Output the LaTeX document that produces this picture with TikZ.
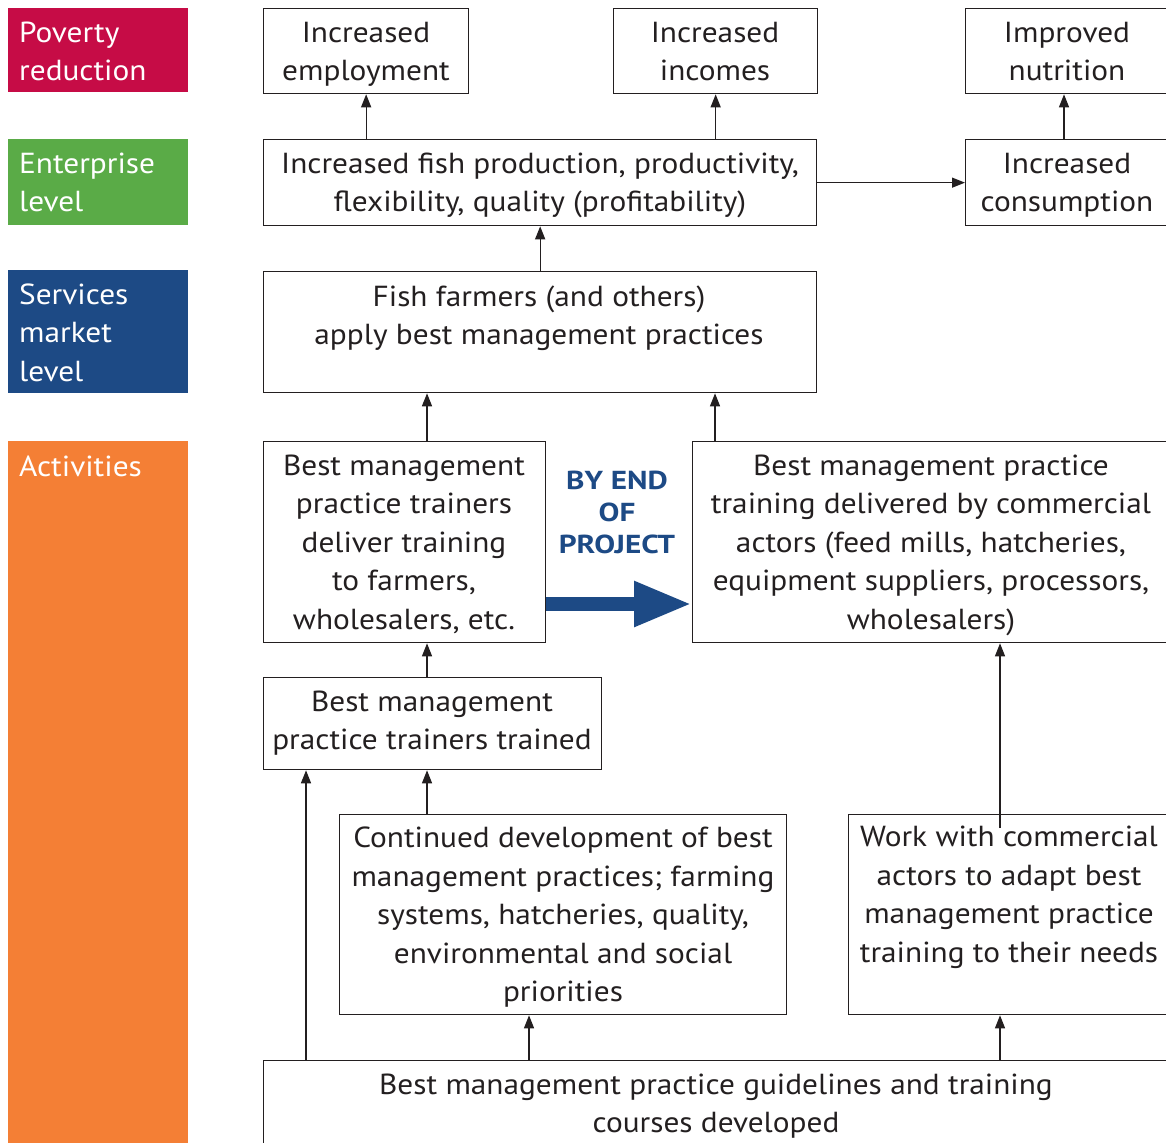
\documentclass[tikz,border=0pt]{standalone}
\usepackage{fontspec}
\setmainfont{PT Sans}[FakeStretch=1.08]
\newfontfamily\byfont{PT Sans}[FakeStretch=1.2]
\usetikzlibrary{arrows.meta}
\definecolor{povc}{HTML}{C60C46}
\definecolor{entc}{HTML}{5AAB47}
\definecolor{serc}{HTML}{1D4A85}
\definecolor{actc}{HTML}{F47F35}
\definecolor{ink}{HTML}{231F20}
\tikzset{
  box/.style={draw=ink, line width=1.3pt, anchor=north west, inner sep=0pt, rectangle},
  txt/.style={align=center, inner sep=0pt, yshift=-5pt, text=ink, font=\fontsize{29}{38.5}\selectfont,
    execute at begin node=\strut, execute at end node=\strut},
  lvl/.style={anchor=north west, inner sep=0pt, rectangle},
  lvltxt/.style={align=left, anchor=west, inner sep=0pt, yshift=-5pt, text=white, font=\fontsize{29}{38.5}\selectfont,
    execute at begin node=\strut, execute at end node=\strut},
  arr/.style={draw=ink, line width=1.3pt, -{Triangle[length=13pt,width=10pt]}},
  bigarr/.style={draw=serc, line width=14pt, -{Triangle[length=58pt,width=42pt]}},
  bytxt/.style={align=center, inner sep=0pt, text=serc, font=\byfont\fontsize{26}{32}\selectfont\bfseries}
}
\begin{document}
\begin{tikzpicture}[x=1pt,y=-1pt]
\useasboundingbox (0,0) rectangle (1166,1142);
\clip (0,0) rectangle (1166,1142);
% level bars
\node[lvl, fill=povc, minimum width=180pt, minimum height=84pt] (pov) at (8,8) {};
\node[lvl, fill=entc, minimum width=180pt, minimum height=86pt] (ent) at (8,139) {};
\node[lvl, fill=serc, minimum width=180pt, minimum height=123pt] (ser) at (8,270) {};
\node[lvl, fill=actc, minimum width=180pt, minimum height=720pt] (act) at (8,441) {};
\node[lvltxt] (povt) at (19,52) {Poverty\\reduction};
\node[lvltxt] (entt) at (19,183) {Enterprise\\level};
\node[lvltxt] (sert) at (19,333) {Services\\market\\level};
\node[lvltxt] (actt) at (19,464) {Activities};
% boxes
\node[box, minimum width=205pt, minimum height=85pt] (e1) at (263,8) {};
\node[box, minimum width=204pt, minimum height=85pt] (e2) at (613,8) {};
\node[box, minimum width=203pt, minimum height=85pt] (e3) at (965,8) {};
\node[box, minimum width=553pt, minimum height=86pt] (fp) at (263,139) {};
\node[box, minimum width=203pt, minimum height=86pt] (cons) at (965,139) {};
\node[box, minimum width=553pt, minimum height=121pt] (ff) at (263,271) {};
\node[box, minimum width=282pt, minimum height=201pt] (del) at (263,441) {};
\node[box, minimum width=490pt, minimum height=201pt] (com) at (692,441) {};
\node[box, minimum width=338pt, minimum height=92pt] (tt) at (263,677) {};
\node[box, minimum width=447pt, minimum height=200pt] (cd) at (339,814) {};
\node[box, minimum width=330pt, minimum height=200pt] (wk) at (848,814) {};
\node[box, minimum width=920pt, minimum height=120pt] (gl) at (263,1060) {};
% texts
\node[txt] (e1t) at (366,52) {Increased\\employment};
\node[txt] (e2t) at (715,52) {Increased\\incomes};
\node[txt] (e3t) at (1067,52) {Improved\\nutrition};
\node[txt] (fpt) at (540,183) {Increased fish production, productivity,\\flexibility, quality (profitability)};
\node[txt] (const) at (1067,183) {Increased\\consumption};
\node[txt] (fft) at (539,316) {Fish farmers (and others)\\apply best management practices};
\node[txt] (delt) at (404,543) {Best management\\practice trainers\\deliver training\\to farmers,\\wholesalers, etc.};
\node[txt] (comt) at (931,543) {Best management practice\\training delivered by commercial\\actors (feed mills, hatcheries,\\equipment suppliers, processors,\\wholesalers)};
\node[txt] (ttt) at (432,721) {Best management\\practice trainers trained};
\node[txt] (cdt) at (563,915) {Continued development of best\\management practices; farming\\systems, hatcheries, quality,\\environmental and social\\priorities};
\node[txt] (wkt) at (1009,895) {Work with commercial\\actors to adapt best\\management practice\\training to their needs};
\node[txt] (glt) at (716,1104) {Best management practice guidelines and training\\courses developed};
\node[bytxt] (by) at (617,512) {BY END\\OF\\PROJECT};
% x positions of connectors
\coordinate (xA) at (427,0);
\coordinate (xB) at (715,0);
\coordinate (xC) at (306,0);
\coordinate (xD) at (529,0);
\coordinate (xE) at (1000,0);
\coordinate (xF) at (1064,0);
\coordinate (yB) at (0,604);
\coordinate (wkin) at (1000,828);
% connectors
\draw[arr] (fp.north -| e1.south) -- (e1.south);
\draw[arr] (fp.north -| e2.south) -- (e2.south);
\draw[arr] (xF |- cons.north) -- (xF |- e3.south);
\draw[arr] (fp.east) -- (cons.west);
\draw[arr] (ff.north -| fp.south) -- (fp.south);
\draw[arr] (xA |- del.north) -- (xA |- ff.south);
\draw[arr] (xB |- com.north) -- (xB |- ff.south);
\draw[arr] (xA |- tt.north) -- (xA |- del.south);
\draw[arr] (xA |- cd.north) -- (xA |- tt.south);
\draw[arr] (xC |- gl.north) -- (xC |- tt.south);
\draw[arr] (xD |- gl.north) -- (xD |- cd.south);
\draw[arr] (xE |- gl.north) -- (xE |- wk.south);
\draw[arr] (wkin) -- (xE |- com.south);
\draw[bigarr] (del.east |- yB) -- (com.west |- yB);
\end{tikzpicture}
\end{document}
